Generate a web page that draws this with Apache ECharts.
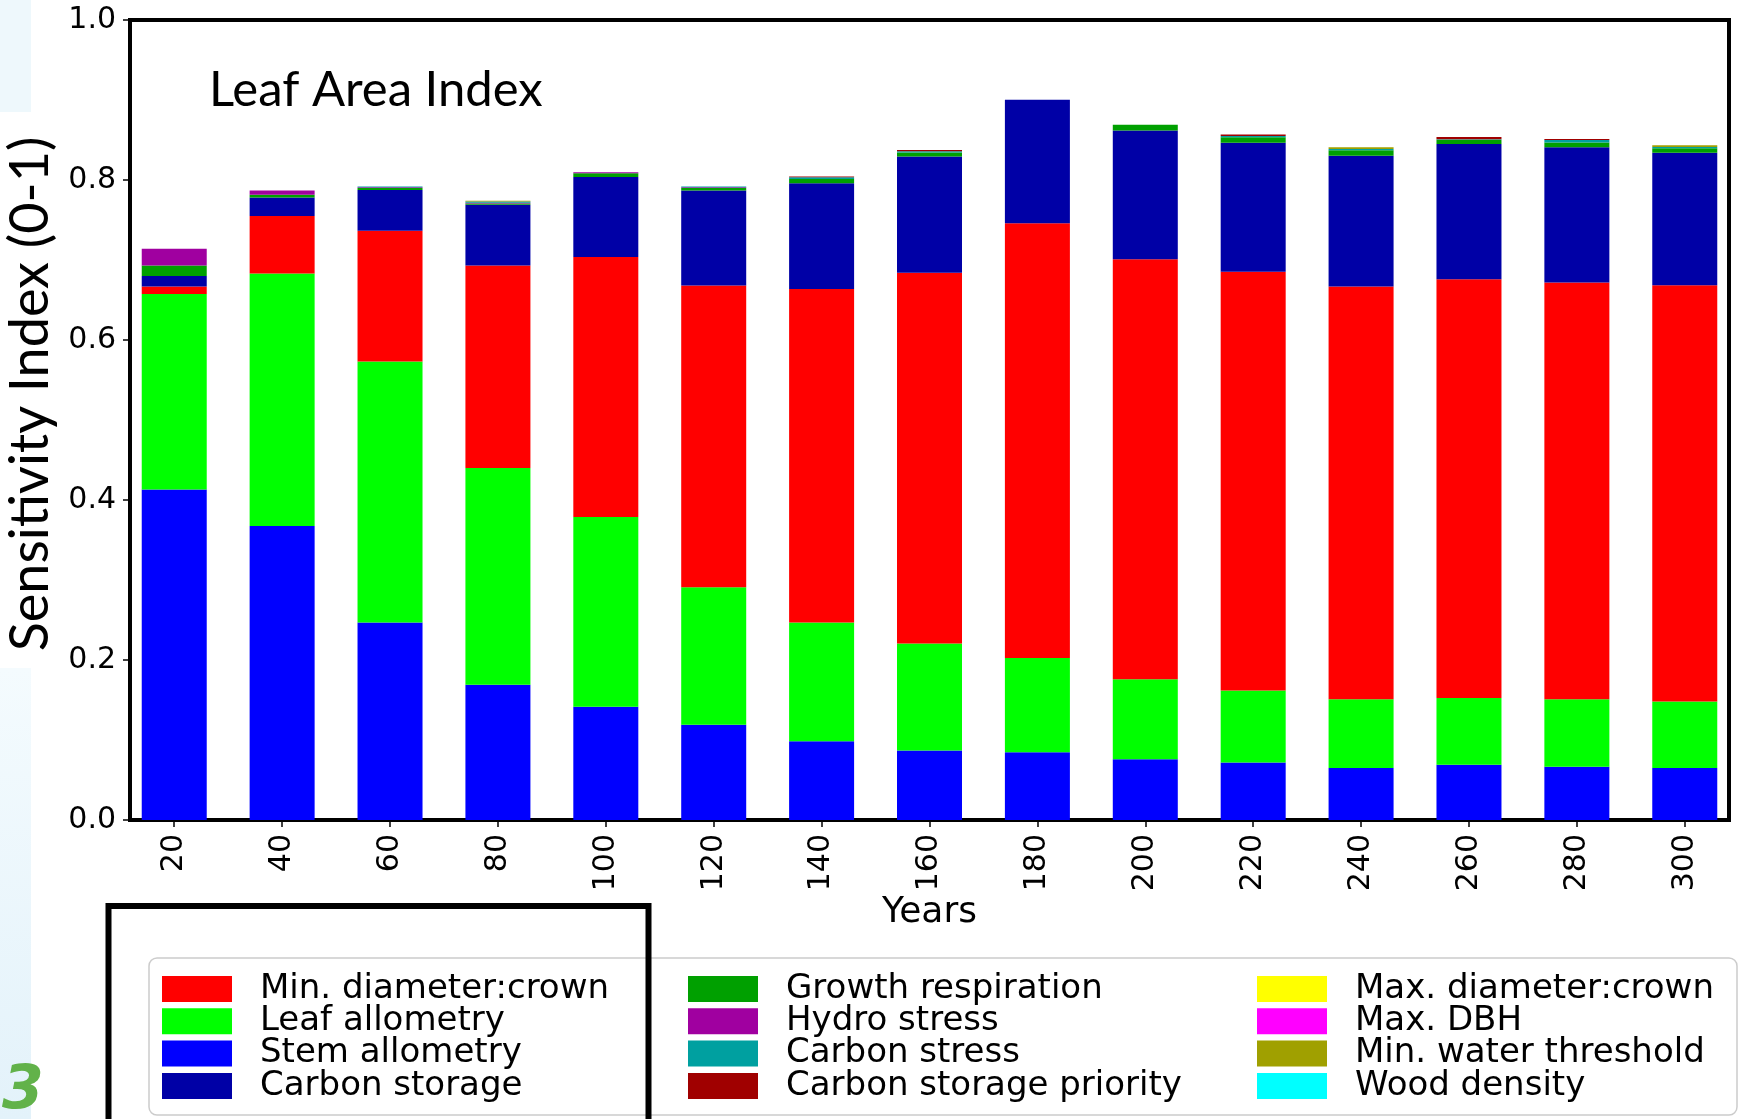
<!DOCTYPE html>
<html>
<head>
<meta charset="utf-8">
<title>Leaf Area Index sensitivity</title>
<script src="https://cdn.jsdelivr.net/npm/echarts@6/dist/echarts.min.js"></script>
<style>
  html, body { margin: 0; padding: 0; background: #ffffff; }
  #chart { width: 1740px; height: 1119px; }
</style>
</head>
<body>
<div id="chart"></div>
<script>
// Simulation years (one stacked bar per year)
const years = [20, 40, 60, 80, 100, 120, 140, 160, 180, 200, 220, 240, 260, 280, 300];

// First-order sensitivity index of Leaf Area Index to each parameter
const stemAllometry        = [0.413, 0.3675, 0.247, 0.169, 0.1415, 0.119, 0.0985, 0.087, 0.0846, 0.076, 0.072, 0.065, 0.069, 0.0666, 0.065];
const leafAllometry        = [0.2445, 0.3155, 0.326, 0.271, 0.2371, 0.172, 0.1485, 0.1335, 0.1179, 0.100, 0.090, 0.086, 0.0836, 0.0844, 0.083];
const minDiameterCrown     = [0.0095, 0.072, 0.1637, 0.253, 0.3251, 0.377, 0.4167, 0.4635, 0.5435, 0.525, 0.5234, 0.516, 0.5232, 0.521, 0.5203];
const carbonStorage        = [0.013, 0.023, 0.0508, 0.076, 0.100, 0.119, 0.1323, 0.1453, 0.1544, 0.161, 0.1613, 0.1634, 0.1692, 0.1688, 0.1659];
const growthRespiration    = [0.013, 0.0037, 0.0025, 0.0015, 0.0046, 0.003, 0.0054, 0.005, 0, 0.007, 0.0067, 0.0067, 0.0054, 0.006, 0.0054];
const hydroStress          = [0.021, 0.0053, 0.001, 0.001, 0.0013, 0.001, 0, 0, 0, 0, 0, 0, 0, 0, 0];
const carbonStress         = [0, 0, 0.001, 0.0015, 0, 0.001, 0.002, 0.0017, 0, 0, 0.0016, 0.0015, 0.0005, 0.0033, 0.0015];
const carbonStoragePriority= [0, 0, 0, 0, 0, 0, 0.001, 0.0015, 0, 0, 0.002, 0, 0.003, 0.0012, 0];
const maxDiameterCrown     = [0, 0, 0, 0, 0, 0, 0, 0, 0, 0, 0, 0, 0, 0, 0];
const maxDBH               = [0, 0, 0, 0, 0, 0, 0, 0, 0, 0, 0, 0, 0, 0, 0];
const minWaterThreshold    = [0, 0, 0, 0.001, 0, 0, 0, 0, 0, 0, 0, 0.0022, 0, 0, 0.0022];
const woodDensity          = [0, 0, 0, 0, 0, 0, 0, 0, 0, 0, 0, 0, 0, 0, 0];

// Stacking order, bottom to top
const parameters = [
  { name: 'Stem allometry',           color: '#0000ff', values: stemAllometry },
  { name: 'Leaf allometry',           color: '#00ff00', values: leafAllometry },
  { name: 'Min. diameter:crown',      color: '#ff0000', values: minDiameterCrown },
  { name: 'Carbon storage',           color: '#0000a6', values: carbonStorage },
  { name: 'Growth respiration',       color: '#00a000', values: growthRespiration },
  { name: 'Hydro stress',             color: '#a000a0', values: hydroStress },
  { name: 'Carbon stress',            color: '#00a0a0', values: carbonStress },
  { name: 'Carbon storage priority',  color: '#a00000', values: carbonStoragePriority },
  { name: 'Max. diameter:crown',      color: '#ffff00', values: maxDiameterCrown },
  { name: 'Max. DBH',                 color: '#ff00ff', values: maxDBH },
  { name: 'Min. water threshold',     color: '#a0a000', values: minWaterThreshold },
  { name: 'Wood density',             color: '#00ffff', values: woodDensity }
];

// Legend columns
const legendColumns = [
  ['Min. diameter:crown', 'Leaf allometry', 'Stem allometry', 'Carbon storage'],
  ['Growth respiration', 'Hydro stress', 'Carbon stress', 'Carbon storage priority'],
  ['Max. diameter:crown', 'Max. DBH', 'Min. water threshold', 'Wood density']
];
const legendLefts = [162, 688, 1257];

const yearIndex = years.map((_, i) => i);

// Each datum is [value, yearIndex]; the value dimension comes first so the
// stack accumulates along y while x stays a numeric position.
const series = parameters.map(p => ({
  name: p.name,
  type: 'bar',
  stack: 'total',
  barWidth: 65,
  itemStyle: { color: p.color },
  emphasis: { disabled: true },
  encode: { x: 1, y: 0 },
  data: p.values.map((v, i) => [v, i])
}));

const tickFont = { fontFamily: 'DejaVu Sans', fontSize: 30, color: '#000' };

const chart = echarts.init(document.getElementById('chart'), null, { renderer: 'canvas' });

chart.setOption({
  animation: false,
  backgroundColor: '#ffffff',
  title: {
    text: 'Leaf Area Index',
    left: 209,
    top: 66,
    padding: 0,
    textStyle: { fontFamily: 'Lato', fontSize: 49, fontWeight: 'normal', color: '#000' }
  },
  grid: {
    left: 130, right: 11, top: 20, bottom: 299,
    outerBoundsMode: 'none',
    containLabel: false,
    show: true, borderColor: '#000', borderWidth: 4, backgroundColor: 'transparent'
  },
  xAxis: {
    type: 'value',
    min: -0.41,
    max: 14.41,
    name: 'Years',
    nameLocation: 'middle',
    nameGap: 75,
    nameMoveOverlap: false,
    nameTextStyle: { fontFamily: 'DejaVu Sans', fontSize: 36, color: '#000' },
    axisLine: { show: false, onZero: false },
    splitLine: { show: false },
    axisTick: { show: true, length: 7, lineStyle: { color: '#000', width: 1.5 }, customValues: yearIndex },
    axisLabel: {
      customValues: yearIndex,
      rotate: 90,
      margin: 14,
      ...tickFont,
      formatter: v => String(years[Math.round(v)])
    }
  },
  yAxis: {
    type: 'value',
    min: 0,
    max: 1,
    interval: 0.2,
    name: 'Sensitivity Index (0-1)',
    nameLocation: 'middle',
    nameGap: 72,
    nameRotate: 90,
    nameTextStyle: { fontFamily: 'Lato', fontSize: 54, color: '#000', padding: [0, 0, 0, 52] },
    axisLine: { show: false, onZero: false },
    splitLine: { show: false },
    axisTick: { show: true, length: 7, lineStyle: { color: '#000', width: 1.5 } },
    axisLabel: {
      margin: 14,
      ...tickFont,
      formatter: v => v.toFixed(1)
    }
  },
  legend: legendColumns.map((col, k) => ({
    data: col,
    orient: 'vertical',
    left: legendLefts[k],
    top: 972,
    padding: 0,
    itemWidth: 70,
    itemHeight: 26,
    itemGap: -1.7,
    icon: 'rect',
    selectedMode: false,
    z: 5,
    textStyle: { fontFamily: 'DejaVu Sans', fontSize: 34, color: '#000', padding: [0, 0, 0, 23] }
  })),
  graphic: [
    // pale side panels
    { type: 'rect', shape: { x: 0, y: 0, width: 31, height: 112 }, style: { fill: '#eef8fc' }, z: 0, silent: true },
    {
      type: 'rect', shape: { x: 0, y: 668, width: 31, height: 451 }, z: 0, silent: true,
      style: {
        fill: new echarts.graphic.LinearGradient(0, 0, 0, 1, [
          { offset: 0, color: '#f4fbfe' }, { offset: 1, color: '#e3f2fa' }
        ])
      }
    },
    { type: 'text', x: 2, y: 1062, z: 1, silent: true,
      style: { text: '3', fontSize: 60, fontWeight: 'bold', fontStyle: 'italic', fontFamily: 'DejaVu Sans', fill: '#62b24a' } },
    // legend frame
    { type: 'rect', shape: { x: 149, y: 958, width: 1588, height: 157, r: 8 },
      style: { fill: 'rgba(255,255,255,0.8)', stroke: '#cccccc', lineWidth: 1.5 }, z: 1, silent: true },
    // black outline box at the lower left
    { type: 'rect', shape: { x: 108.5, y: 906, width: 540, height: 240 },
      style: { fill: 'none', stroke: '#000', lineWidth: 6 }, z: 10, silent: true }
  ],
  series: series
});
</script>
</body>
</html>
